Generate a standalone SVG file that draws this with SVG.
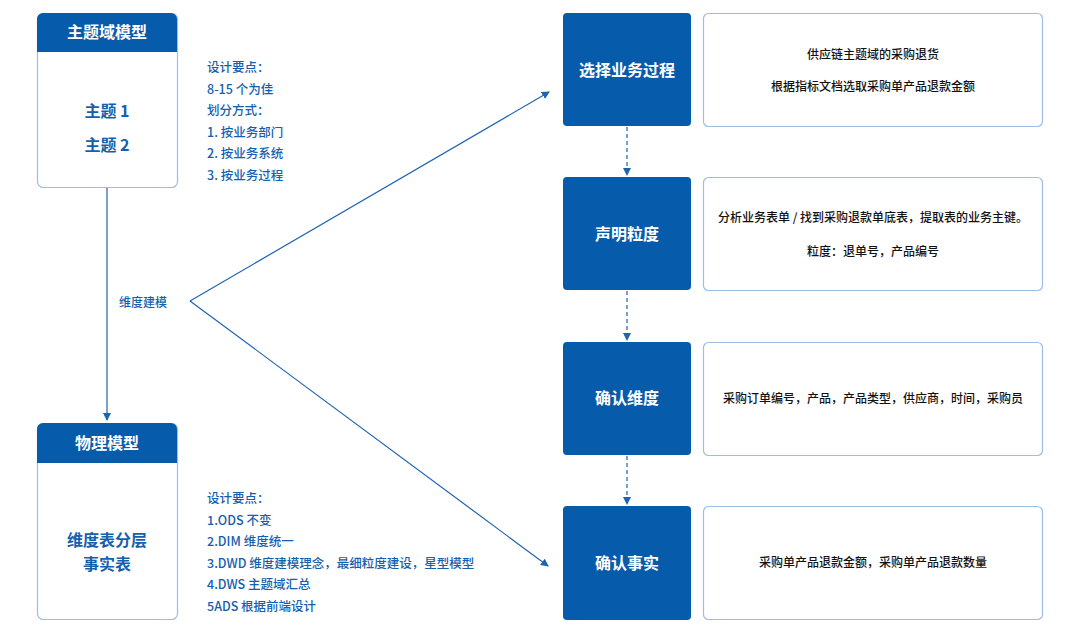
<svg xmlns="http://www.w3.org/2000/svg" width="1080" height="633" viewBox="0 0 1080 633">
<style>
text{font-family:"Noto Sans CJK SC","Noto Sans",sans-serif;}
.card{fill:#fff;stroke:#9dbde3;stroke-width:1.2;}
.hdr{fill:#065bab;}
.ht{fill:#fff;font-size:16px;font-weight:bold;text-anchor:middle;}
.bt{fill:#1560ad;font-size:16px;font-weight:bold;text-anchor:middle;}
.note{fill:#1560ad;font-size:12.5px;font-weight:500;}
.rt{fill:#111;font-size:12px;font-weight:500;text-anchor:middle;}
.ln{stroke:#1d63b0;stroke-width:1.2;fill:none;}
.dash{stroke:#1d63b0;stroke-width:1.2;fill:none;stroke-dasharray:4 3;}
</style>
<defs><marker id="ah" markerWidth="8" markerHeight="8" refX="7" refY="4" orient="auto" markerUnits="userSpaceOnUse"><path d="M0,0 L8,4 L0,8 z" fill="#1d63b0"/></marker></defs>
<rect width="1080" height="633" fill="#fff"/>
<g id="connectors">
<line class="ln" x1="107" y1="187" x2="107" y2="420" marker-end="url(#ah)"/>
<line class="ln" x1="190" y1="301" x2="549" y2="92" marker-end="url(#ah)"/>
<line class="ln" x1="190" y1="301" x2="548" y2="566" marker-end="url(#ah)"/>
<line class="dash" x1="627" y1="127" x2="627" y2="175" marker-end="url(#ah)"/>
<line class="dash" x1="627" y1="291" x2="627" y2="340" marker-end="url(#ah)"/>
<line class="dash" x1="627" y1="456" x2="627" y2="504" marker-end="url(#ah)"/>
<text class="note" x="119" y="307" style="font-size:12px">维度建模</text>
</g>
<g id="domain">
<rect class="card" x="37.5" y="13.5" width="140" height="174" rx="6"/>
<path class="hdr" d="M37,19 a6,6 0 0 1 6,-6 h128 a6,6 0 0 1 6,6 v33 h-140z"/>
<text class="ht" x="107" y="38">主题域模型</text>
<text class="bt" x="107" y="117">主题 1</text>
<text class="bt" x="107" y="151">主题 2</text>
</g>
<g id="note1" class="note">
<text x="207" y="72">设计要点：</text>
<text x="207" y="94">8-15 个为佳</text>
<text x="207" y="115">划分方式：</text>
<text x="207" y="137">1. 按业务部门</text>
<text x="207" y="158">2. 按业务系统</text>
<text x="207" y="180">3. 按业务过程</text>
</g>
<g id="physical">
<rect class="card" x="37.5" y="423.5" width="140" height="196" rx="6"/>
<path class="hdr" d="M37,429 a6,6 0 0 1 6,-6 h128 a6,6 0 0 1 6,6 v34 h-140z"/>
<text class="ht" x="107" y="449">物理模型</text>
<text class="bt" x="107" y="546">维度表分层</text>
<text class="bt" x="107" y="570">事实表</text>
</g>
<g id="note2" class="note">
<text x="207" y="503">设计要点：</text>
<text x="207" y="525">1.ODS 不变</text>
<text x="207" y="546">2.DIM 维度统一</text>
<text x="207" y="568">3.DWD 维度建模理念，最细粒度建设，星型模型</text>
<text x="207" y="589">4.DWS 主题域汇总</text>
<text x="207" y="611">5ADS 根据前端设计</text>
</g>
<g id="step1">
<rect class="hdr" x="563" y="13" width="128" height="113" rx="4"/>
<text class="ht" x="627" y="76">选择业务过程</text>
<rect class="card" x="703.5" y="13.5" width="339" height="113" rx="5"/>
<text class="rt" x="873" y="59">供应链主题域的采购退货</text>
<text class="rt" x="873" y="91">根据指标文档选取采购单产品退款金额</text>
</g>
<g id="step2">
<rect class="hdr" x="563" y="177" width="128" height="113" rx="4"/>
<text class="ht" x="627" y="240">声明粒度</text>
<rect class="card" x="703.5" y="177.5" width="339" height="113" rx="5"/>
<text class="rt" x="873" y="222">分析业务表单 / 找到采购退款单底表，提取表的业务主键。</text>
<text class="rt" x="873" y="256">粒度：退单号，产品编号</text>
</g>
<g id="step3">
<rect class="hdr" x="563" y="342" width="128" height="113" rx="4"/>
<text class="ht" x="627" y="404">确认维度</text>
<rect class="card" x="703.5" y="342.5" width="339" height="113" rx="5"/>
<text class="rt" x="873" y="403">采购订单编号，产品，产品类型，供应商，时间，采购员</text>
</g>
<g id="step4">
<rect class="hdr" x="563" y="506" width="128" height="114" rx="4"/>
<text class="ht" x="627" y="569">确认事实</text>
<rect class="card" x="703.5" y="506.5" width="339" height="113" rx="5"/>
<text class="rt" x="873" y="567">采购单产品退款金额，采购单产品退款数量</text>
</g>
</svg>
